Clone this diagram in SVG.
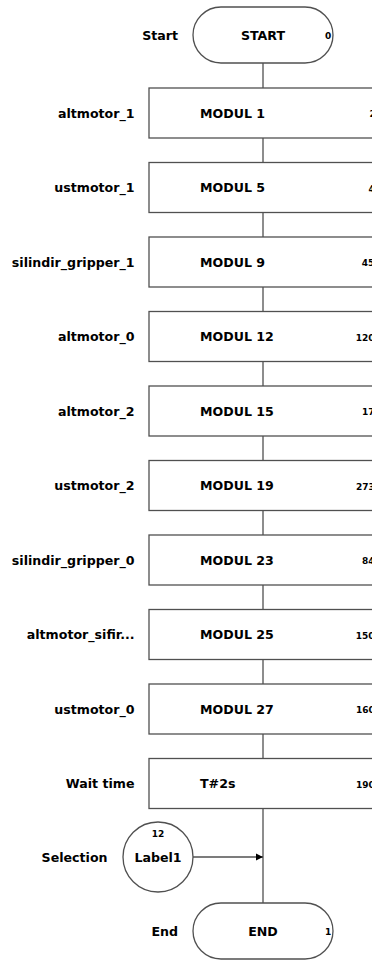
<svg xmlns="http://www.w3.org/2000/svg" width="372" height="961" viewBox="0 0 372 961">
<style>
text{font-family:"DejaVu Sans","Verdana",sans-serif;font-weight:bold;fill:#000}
.lbl{font-size:12.6px;text-anchor:end}
.main{font-size:12.6px}
.num{font-size:9px}
.shape{fill:#fff;stroke:#505050;stroke-width:1.3}
.conn{stroke:#505050;stroke-width:1.3;fill:none}
</style>
<defs>
<marker id="arr" markerWidth="8" markerHeight="8" refX="7" refY="4" orient="auto" markerUnits="userSpaceOnUse">
<path d="M0,0.5 L7,4 L0,7.5 z" fill="#000"/>
</marker>
</defs>
<rect width="372" height="961" fill="#fff"/>
<g id="connectors">
<line class="conn" x1="263" y1="63" x2="263" y2="88"/>
<line class="conn" x1="263" y1="138" x2="263" y2="162.5"/>
<line class="conn" x1="263" y1="212.5" x2="263" y2="237"/>
<line class="conn" x1="263" y1="287" x2="263" y2="311.5"/>
<line class="conn" x1="263" y1="361.5" x2="263" y2="386"/>
<line class="conn" x1="263" y1="436" x2="263" y2="460.5"/>
<line class="conn" x1="263" y1="510.5" x2="263" y2="535"/>
<line class="conn" x1="263" y1="585" x2="263" y2="609.5"/>
<line class="conn" x1="263" y1="659.5" x2="263" y2="684"/>
<line class="conn" x1="263" y1="734" x2="263" y2="758.5"/>
<line class="conn" x1="263" y1="808.5" x2="263" y2="903"/>
<line class="conn" x1="193" y1="857" x2="263" y2="857" stroke="#000" marker-end="url(#arr)"/>
</g>
<g id="start">
<rect class="shape" x="193" y="7" width="140" height="56" rx="28"/>
<text class="lbl" x="178" y="40">Start</text>
<text class="main" x="263" y="40" text-anchor="middle">START</text>
<text class="num" x="325" y="39">0</text>
</g>
<g id="n1">
<rect class="shape" x="149" y="88" width="240" height="50"/>
<text class="lbl" x="134.5" y="117.5">altmotor_1</text>
<text class="main" x="200" y="117.5">MODUL 1</text>
<text class="num" x="369.5" y="117">2</text>
</g>
<g id="n2">
<rect class="shape" x="149" y="162.5" width="240" height="50"/>
<text class="lbl" x="134.5" y="192">ustmotor_1</text>
<text class="main" x="200" y="192">MODUL 5</text>
<text class="num" x="368.5" y="191.5">4</text>
</g>
<g id="n3">
<rect class="shape" x="149" y="237" width="240" height="50"/>
<text class="lbl" x="134.5" y="266.5">silindir_gripper_1</text>
<text class="main" x="200" y="266.5">MODUL 9</text>
<text class="num" x="361.7" y="266">45</text>
</g>
<g id="n4">
<rect class="shape" x="149" y="311.5" width="240" height="50"/>
<text class="lbl" x="134.5" y="341">altmotor_0</text>
<text class="main" x="200" y="341">MODUL 12</text>
<text class="num" x="355.7" y="340.5">120</text>
</g>
<g id="n5">
<rect class="shape" x="149" y="386" width="240" height="50"/>
<text class="lbl" x="134.5" y="415.5">altmotor_2</text>
<text class="main" x="200" y="415.5">MODUL 15</text>
<text class="num" x="362" y="415">17</text>
</g>
<g id="n6">
<rect class="shape" x="149" y="460.5" width="240" height="50"/>
<text class="lbl" x="134.5" y="490">ustmotor_2</text>
<text class="main" x="200" y="490">MODUL 19</text>
<text class="num" x="356" y="489.5">273</text>
</g>
<g id="n7">
<rect class="shape" x="149" y="535" width="240" height="50"/>
<text class="lbl" x="134.5" y="564.5">silindir_gripper_0</text>
<text class="main" x="200" y="564.5">MODUL 23</text>
<text class="num" x="362" y="564">84</text>
</g>
<g id="n8">
<rect class="shape" x="149" y="609.5" width="240" height="50"/>
<text class="lbl" x="134.5" y="639">altmotor_sifir...</text>
<text class="main" x="200" y="639">MODUL 25</text>
<text class="num" x="355.7" y="638.5">150</text>
</g>
<g id="n9">
<rect class="shape" x="149" y="684" width="240" height="50"/>
<text class="lbl" x="134.5" y="713.5">ustmotor_0</text>
<text class="main" x="200" y="713.5">MODUL 27</text>
<text class="num" x="356" y="713">160</text>
</g>
<g id="n10">
<rect class="shape" x="149" y="758.5" width="240" height="50"/>
<text class="lbl" x="134.5" y="788">Wait time</text>
<text class="main" x="200" y="788">T#2s</text>
<text class="num" x="356" y="787.5">190</text>
</g>
<g id="selection">
<circle class="shape" cx="158" cy="857" r="35"/>
<text class="lbl" x="107.5" y="862">Selection</text>
<text class="main" x="158" y="862" text-anchor="middle">Label1</text>
<text class="num" x="158" y="837" text-anchor="middle">12</text>
</g>
<g id="end">
<rect class="shape" x="193" y="903" width="140" height="56" rx="28"/>
<text class="lbl" x="178" y="936">End</text>
<text class="main" x="263" y="936" text-anchor="middle">END</text>
<text class="num" x="325" y="935">1</text>
</g>
</svg>
